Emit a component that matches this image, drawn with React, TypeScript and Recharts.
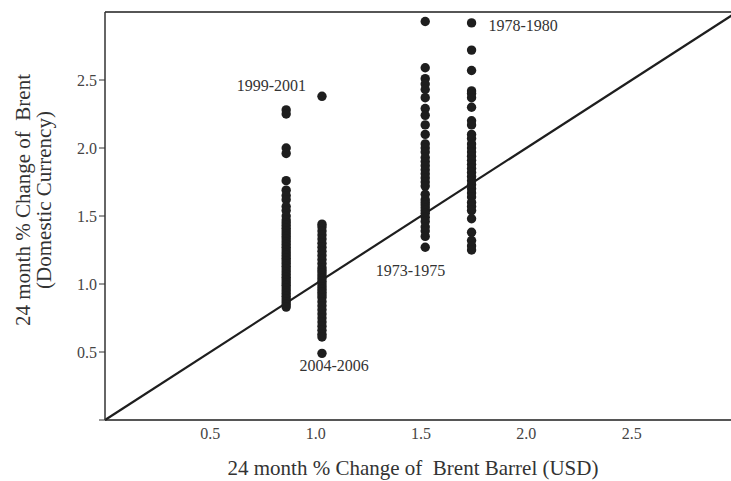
import {
  ScatterChart,
  Scatter,
  XAxis,
  YAxis,
  ReferenceLine,
  ReferenceDot,
  Label,
} from "recharts";

// x position (24m % change in USD) of each episode
const episodeX = [0.86, 1.03, 1.52, 1.74];

// 24m % change in domestic currency, one list per episode
const y1999 = [
  2.28, 2.25, 2.0, 1.96, 1.76, 1.69, 1.65, 1.62, 1.57, 1.54, 1.5, 1.47, 1.45,
  1.43, 1.41, 1.39, 1.37, 1.35, 1.33, 1.31, 1.29, 1.27, 1.25, 1.23, 1.21, 1.19,
  1.17, 1.15, 1.13, 1.11, 1.09, 1.07, 1.05, 1.03, 1.01, 0.99, 0.97, 0.95, 0.93,
  0.91, 0.89, 0.87, 0.85, 0.83,
];
const y2004 = [
  2.38, 1.44, 1.42, 1.39, 1.36, 1.33, 1.3, 1.27, 1.24, 1.21, 1.18, 1.15, 1.12,
  1.1, 1.08, 1.06, 1.04, 1.02, 1.0, 0.98, 0.96, 0.94, 0.92, 0.9, 0.87, 0.84,
  0.81, 0.78, 0.75, 0.72, 0.69, 0.66, 0.63, 0.61, 0.49,
];
const y1973 = [
  2.93, 2.59, 2.51, 2.47, 2.43, 2.37, 2.29, 2.24, 2.17, 2.1, 2.03, 2.0, 1.97,
  1.93, 1.9, 1.87, 1.84, 1.81, 1.78, 1.75, 1.72, 1.66, 1.62, 1.6, 1.58, 1.56,
  1.54, 1.52, 1.49, 1.46, 1.42, 1.39, 1.35, 1.27,
];
const y1978 = [
  2.92, 2.72, 2.57, 2.42, 2.4, 2.37, 2.3, 2.2, 2.17, 2.1, 2.07, 2.03, 2.0, 1.97,
  1.94, 1.91, 1.88, 1.85, 1.82, 1.79, 1.76, 1.73, 1.7, 1.67, 1.64, 1.6, 1.57,
  1.54, 1.48, 1.38, 1.32, 1.28, 1.25,
];

const xTicks = [0.5, 1.0, 1.5, 2.0, 2.5];
const yTicks = [0, 0.5, 1.0, 1.5, 2.0, 2.5];

// episode name and where its annotation sits
const annotations = [
  { text: "1999-2001", x: 0.79, y: 2.46 },
  { text: "1978-1980", x: 1.985, y: 2.9 },
  { text: "1973-1975", x: 1.45, y: 1.1 },
  { text: "2004-2006", x: 1.088, y: 0.404 },
];

const columns = [y1999, y2004, y1973, y1978];
const points = columns.flatMap((ys, i) =>
  ys.map((y) => ({ x: episodeX[i], y }))
);

const FONT = "'Liberation Serif', 'DejaVu Serif', serif";
const INK = "#1e1e1e";

const Dot = (props: any) => (
  <circle cx={props.cx} cy={props.cy} r={4.7} fill={INK} />
);

const YTitle = () => (
  <g fontFamily={FONT} fontSize={21} fill="#333">
    <text
      x={23}
      y={200}
      transform="rotate(-90 23 200)"
      textAnchor="middle"
      dominantBaseline="central"
    >
      {"24 month % Change of \u00a0Brent"}
    </text>
    <text
      x={44}
      y={200}
      transform="rotate(-90 44 200)"
      textAnchor="middle"
      dominantBaseline="central"
    >
      (Domestic Currency)
    </text>
  </g>
);

export default function App() {
  return (
    <div
      style={{
        position: "absolute",
        left: 0,
        top: 0,
        width: 731,
        height: 481,
        overflow: "hidden",
        background: "#fff",
      }}
    >
      <ScatterChart
        width={745}
        height={481}
        margin={{ top: 12, right: 8, left: 0, bottom: 0 }}
      >
        <XAxis
          type="number"
          dataKey="x"
          domain={[0, 3]}
          ticks={xTicks}
          tickFormatter={(v: number) => v.toFixed(1)}
          tickLine={false}
          tickSize={6}
          height={61}
          axisLine={{ stroke: INK, strokeWidth: 1.5 }}
          tick={{ fill: "#444", fontSize: 16, fontFamily: FONT }}
        >
          <Label
            value={"24 month % Change of \u00a0Brent Barrel (USD)"}
            position="insideBottom"
            offset={6}
            dx={-8}
            fill="#333"
            fontSize={21}
            fontFamily={FONT}
          />
        </XAxis>
        <YAxis
          type="number"
          dataKey="y"
          domain={[0, 3]}
          ticks={yTicks}
          tickFormatter={(v: number) => (v === 0 ? "" : v.toFixed(1))}
          tickSize={6}
          width={105}
          axisLine={{ stroke: "#333", strokeWidth: 1.5 }}
          tickLine={{ stroke: "#333" }}
          tick={{ fill: "#444", fontSize: 16, fontFamily: FONT }}
          label={<YTitle />}
        />
        <ReferenceLine y={3} stroke={INK} strokeWidth={1.5} />
        <ReferenceLine
          segment={[
            { x: 0, y: 0 },
            { x: 3, y: 3 },
          ]}
          stroke={INK}
          strokeWidth={2.2}
        />
        <Scatter
          data={points}
          shape={<Dot />}
          isAnimationActive={false}
        />
        {annotations.map((a) => (
          <ReferenceDot
            key={a.text}
            x={a.x}
            y={a.y}
            r={0}
            fill="none"
            stroke="none"
            label={{
              value: a.text,
              position: "center",
              fill: "#333",
              fontSize: 16,
              fontFamily: FONT,
            }}
          />
        ))}
      </ScatterChart>
    </div>
  );
}
